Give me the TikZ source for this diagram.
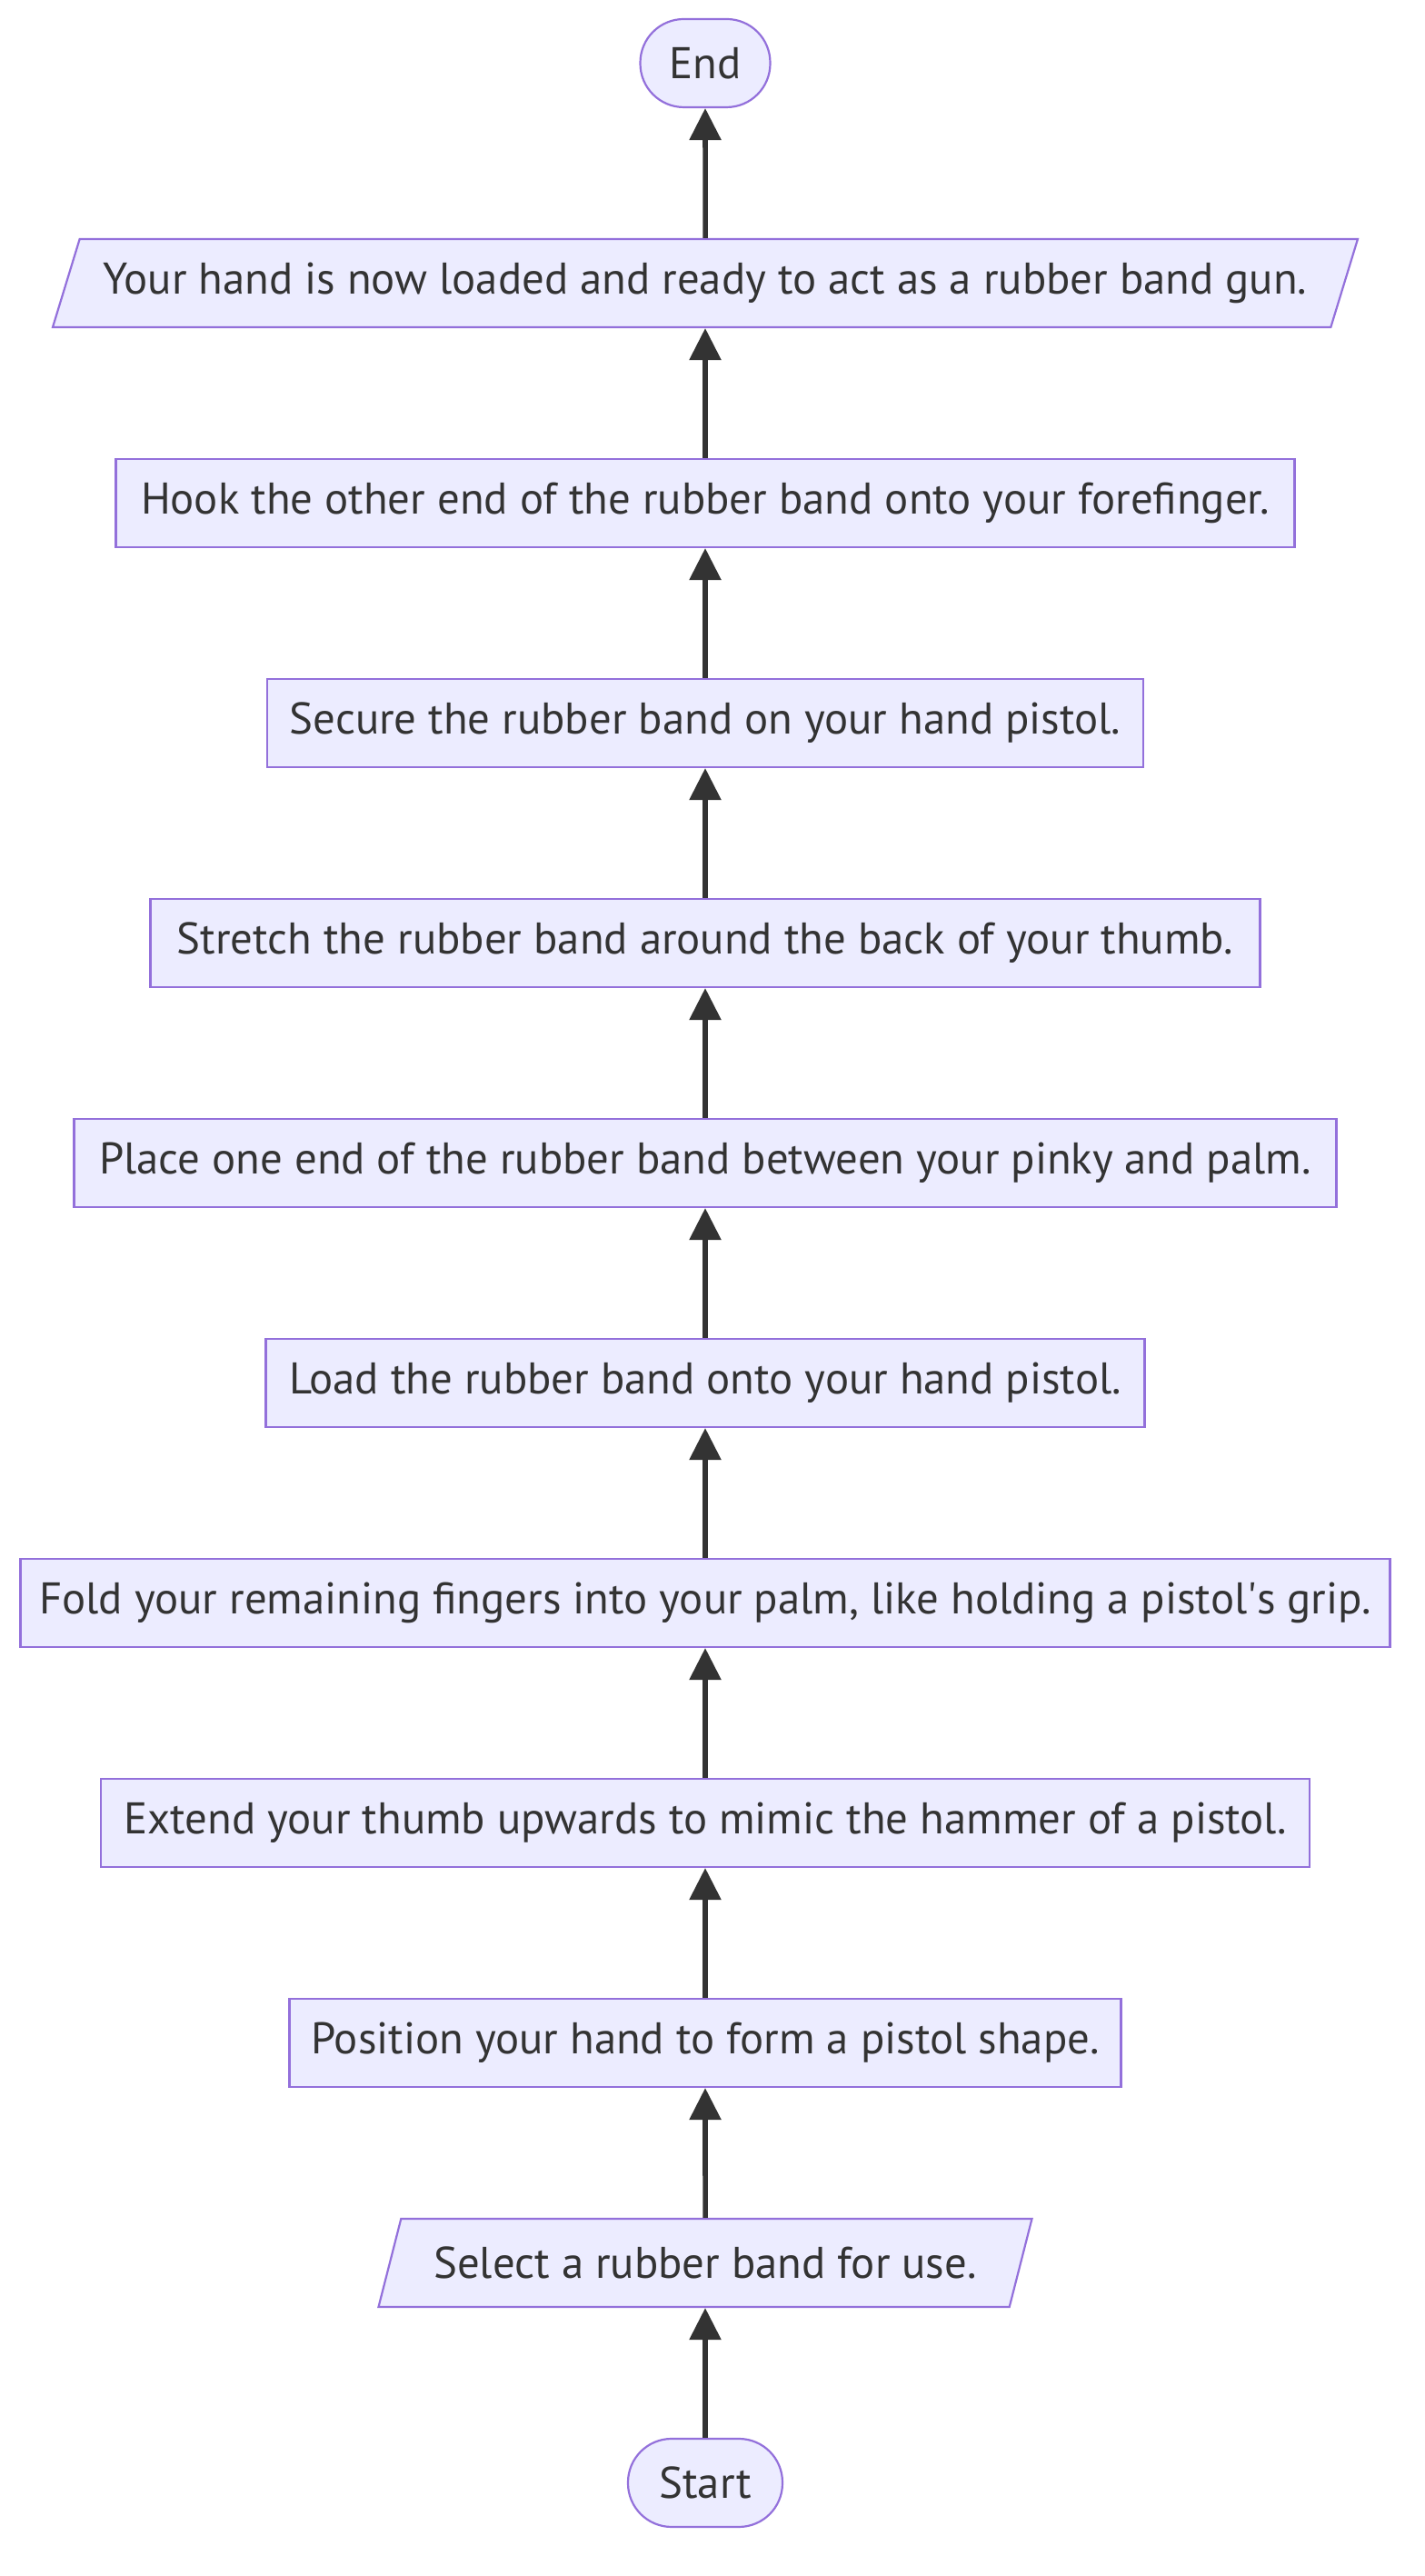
\documentclass[tikz,border=0pt]{standalone}
\usepackage{fontspec}
\setmainfont{PT Sans}
\usepackage{tikz}
\usetikzlibrary{shapes.geometric, arrows.meta, positioning}
\definecolor{boxfill}{HTML}{ECECFF}
\definecolor{boxline}{HTML}{9370DB}
\definecolor{ink}{HTML}{333333}
\tikzstyle{terminal} = [
	rectangle, 
	rounded corners=24pt, 
	minimum height=48.5pt, 
	align=center, 
	text centered, 
	draw=boxline, 
	line width=1.1pt,
	text=ink,
	font=\fontsize{24.4}{29}\selectfont,
	fill=boxfill]
\tikzstyle{process} = [
	rectangle, 
	minimum height=48.5pt,
	text centered, 
	align=center, 
	draw=boxline, 
	line width=1.1pt,
	text=ink,
	font=\fontsize{24.4}{29}\selectfont,
	fill=boxfill]
\tikzstyle{io} = [
	trapezium, 
	trapezium left angle=63, 
	trapezium right angle=117, 
	trapezium stretches body=true,
	minimum height=48.5pt,
	text centered, 
	align=center, 
	draw=boxline, 
	line width=1.1pt,
	text=ink,
	font=\fontsize{24.4}{29}\selectfont,
	fill=boxfill]
\tikzstyle{arrow} = [-{Triangle[length=17.5pt,width=17pt]}, line width=2.8pt, draw=ink]

\begin{document}
\begin{tikzpicture}[node distance=121pt]
\useasboundingbox (0,0) rectangle (784pt,1417pt);

% --- Nodes ---
\node (start) [terminal, minimum width=85pt] at (388pt,51.25pt) {Start};
\node (select) [io, minimum width=359.5pt, above of=start] {Select a rubber band for use.};
\node (position) [process, minimum width=457.5pt, above of=select] {Position your hand to form a pistol shape.};
\node (extend) [process, minimum width=665pt, above of=position] {Extend your thumb upwards to mimic the hammer of a pistol.};
\node (fold) [process, minimum width=753.5pt, above of=extend] {Fold your remaining fingers into your palm, like holding a pistol\textquotesingle s grip.};
\node (load) [process, minimum width=483.5pt, above of=fold] {Load the rubber band onto your hand pistol.};
\node (place) [process, minimum width=694.5pt, above of=load] {Place one end of the rubber band between your pinky and palm.};
\node (stretch) [process, minimum width=610.5pt, above of=place] {Stretch the rubber band around the back of your thumb.};
\node (secure) [process, minimum width=482pt, above of=stretch] {Secure the rubber band on your hand pistol.};
\node (hook) [process, minimum width=648.5pt, above of=secure] {Hook the other end of the rubber band onto your forefinger.};
\node (ready) [io, minimum width=718pt, above of=hook] {Your hand is now loaded and ready to act as a rubber band gun.};
\node (end) [terminal, minimum width=71.5pt, above of=ready] {End};

% --- Arrows ---
\draw [arrow] (start) -- (select);
\draw [arrow] (select) -- (position);
\draw [arrow] (position) -- (extend);
\draw [arrow] (extend) -- (fold);
\draw [arrow] (fold) -- (load);
\draw [arrow] (load) -- (place);
\draw [arrow] (place) -- (stretch);
\draw [arrow] (stretch) -- (secure);
\draw [arrow] (secure) -- (hook);
\draw [arrow] (hook) -- (ready);
\draw [arrow] (ready) -- (end);

\end{tikzpicture}
\end{document}
